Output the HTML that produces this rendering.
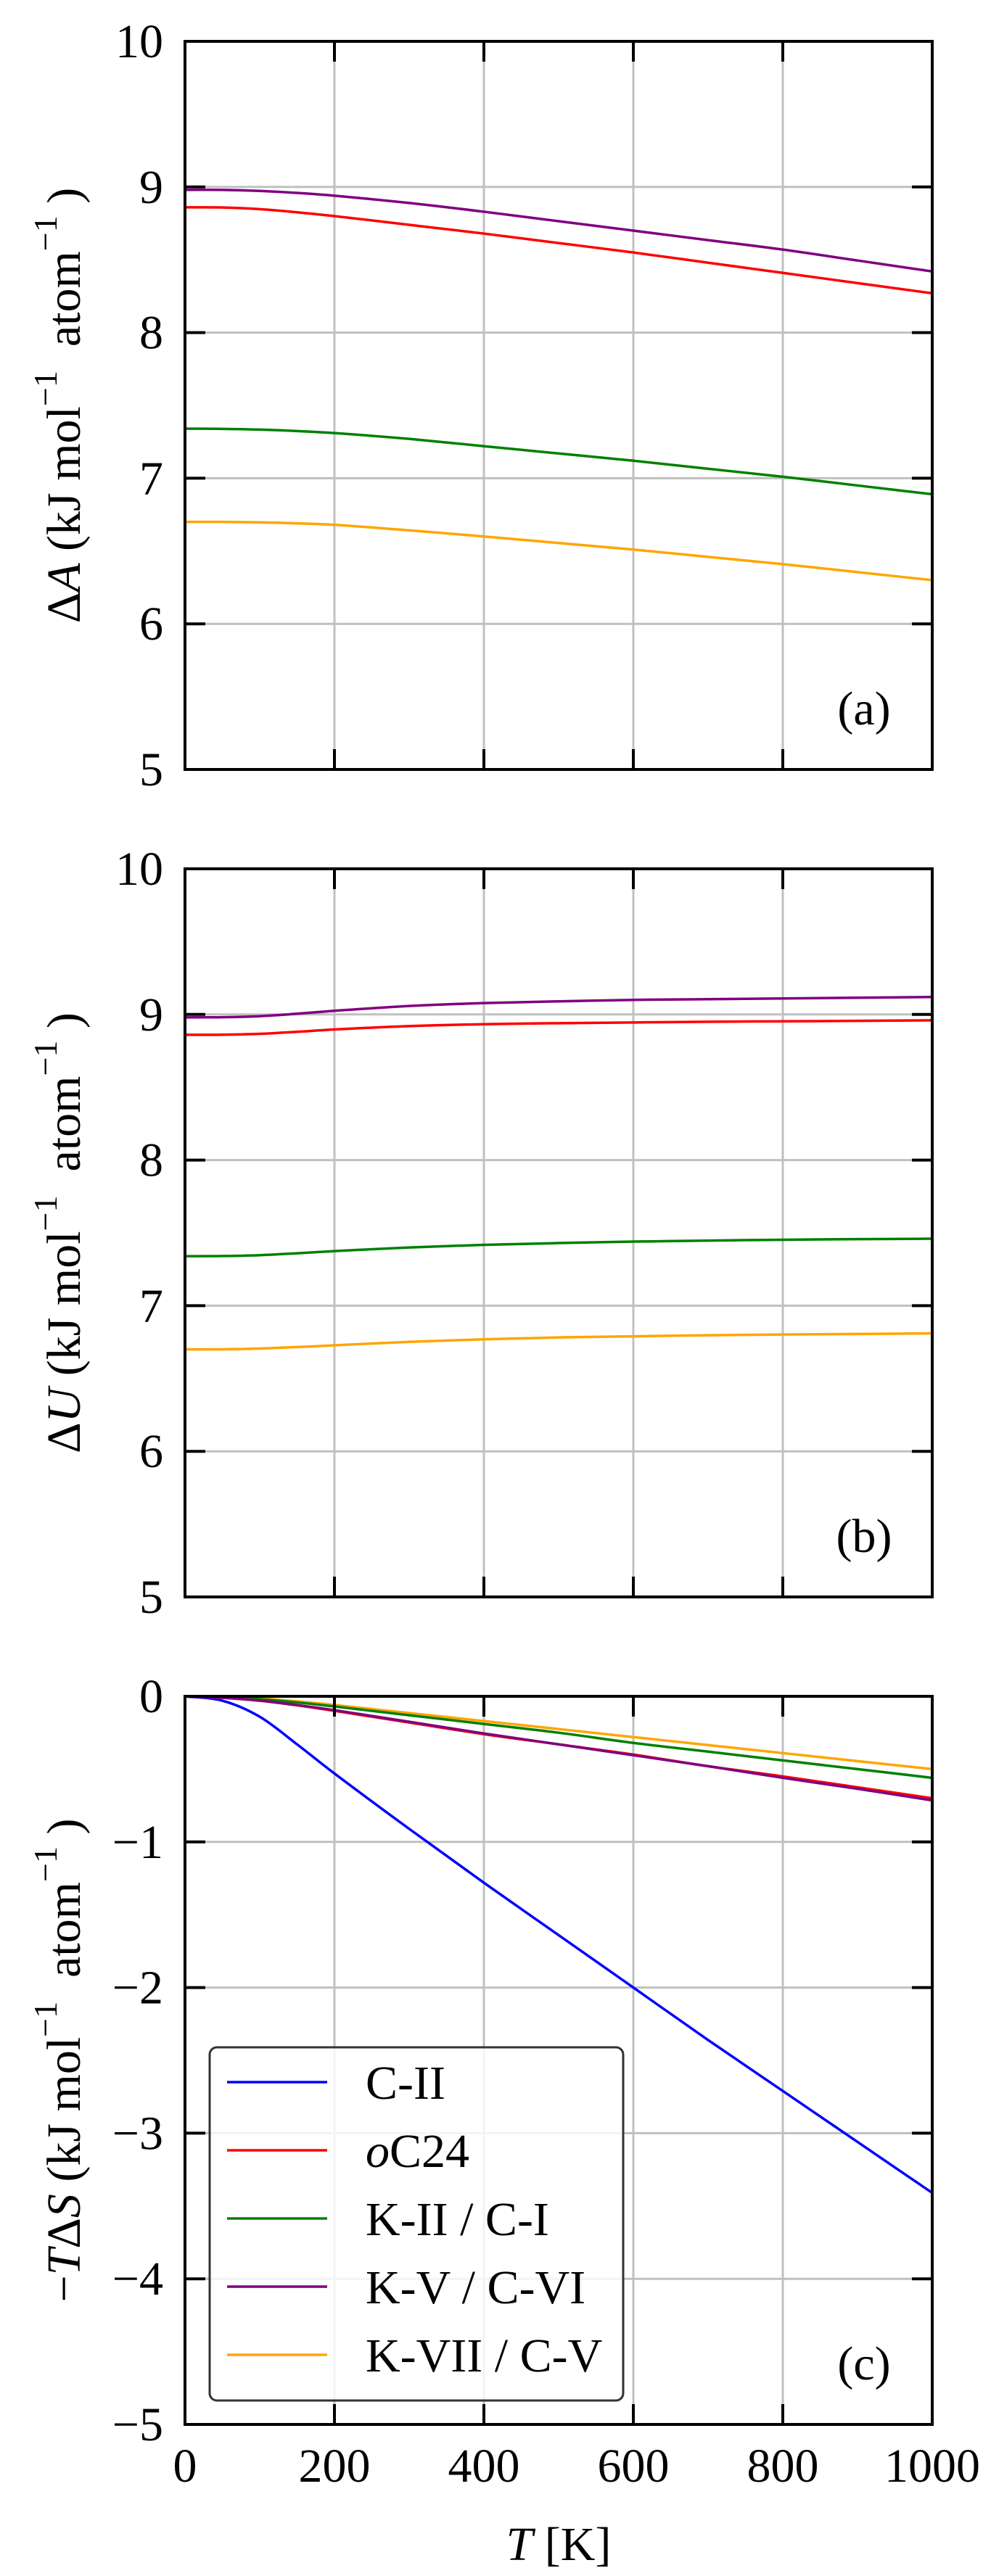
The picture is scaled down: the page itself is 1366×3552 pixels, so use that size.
<!DOCTYPE html>
<html><head><meta charset="utf-8"><style>
html,body{margin:0;padding:0;background:#fff;}
svg{display:block;}
text{font-family:"Liberation Serif","Times New Roman",serif;}
</style></head><body>
<svg id="fig" width="1366" height="3552" viewBox="0 0 1366 3552" xmlns="http://www.w3.org/2000/svg"></svg>
<script>
const temps = [0,50,100,150,200,300,400,500,600,700,800,900,1000];
const xTicks = [0,200,400,600,800,1000];
// Panel (a) ΔA
const aRed    = [8.86,8.859,8.848,8.826,8.80,8.74,8.68,8.615,8.55,8.48,8.41,8.34,8.27];
const aPurple = [8.98,8.98,8.973,8.959,8.94,8.89,8.83,8.765,8.70,8.635,8.57,8.495,8.42];
const aGreen  = [7.34,7.339,7.334,7.324,7.31,7.27,7.22,7.17,7.12,7.065,7.01,6.95,6.89];
const aOrange = [6.70,6.70,6.697,6.69,6.68,6.642,6.60,6.555,6.51,6.46,6.41,6.355,6.30];
// Panel (b) ΔU
const bRed    = [8.86,8.861,8.867,8.881,8.897,8.92,8.933,8.94,8.945,8.95,8.953,8.956,8.96];
const bPurple = [8.98,8.981,8.988,9.005,9.025,9.058,9.078,9.09,9.10,9.105,9.11,9.115,9.12];
const bGreen  = [7.34,7.341,7.347,7.36,7.375,7.40,7.418,7.43,7.44,7.447,7.453,7.457,7.46];
const bOrange = [6.70,6.701,6.706,6.716,6.728,6.752,6.769,6.782,6.79,6.797,6.802,6.806,6.81];
// Panel (c) -TΔS
const cBlue   = [0,-0.03,-0.14,-0.33,-0.53,-0.91,-1.28,-1.64,-2.00,-2.36,-2.71,-3.06,-3.41];
const cRed    = [0,-0.01,-0.03,-0.062,-0.10,-0.18,-0.26,-0.33,-0.40,-0.48,-0.55,-0.625,-0.70];
const cPurple = [0,-0.01,-0.03,-0.06,-0.095,-0.175,-0.255,-0.33,-0.405,-0.48,-0.56,-0.635,-0.715];
const cGreen  = [0,-0.005,-0.02,-0.042,-0.07,-0.13,-0.19,-0.25,-0.32,-0.38,-0.44,-0.50,-0.56];
const cOrange = [0,-0.005,-0.015,-0.035,-0.06,-0.115,-0.17,-0.225,-0.28,-0.335,-0.39,-0.445,-0.50];
const abTicks = [5,6,7,8,9,10];
const cTicks = [-5,-4,-3,-2,-1,0];
const legendLabels = ["C-II","oC24","K-II / C-I","K-V / C-VI","K-VII / C-V"];

const NS="http://www.w3.org/2000/svg";
const svg=document.getElementById('fig');
function mk(tag,attrs,parent){const e=document.createElementNS(NS,tag);for(const k in attrs)e.setAttribute(k,attrs[k]);(parent||svg).appendChild(e);return e;}
const X0=255,X1=1285,PH=1004;
const xs=t=>X0+(t-0)/(1000-0)*(X1-X0);
const COL={blue:"#0000ff",red:"#ff0000",green:"#008000",purple:"#800080",orange:"#ffa500"};

function pathFor(vals,ys){
  const p=temps.map((t,i)=>[xs(t),ys(vals[i])]);
  let d="M"+p[0][0].toFixed(2)+","+p[0][1].toFixed(2);
  for(let i=0;i<p.length-1;i++){
    const p0=p[Math.max(0,i-1)],p1=p[i],p2=p[i+1],p3=p[Math.min(p.length-1,i+2)];
    const h=p2[0]-p1[0];
    const m1=(p2[1]-p0[1])/(p2[0]-p0[0]||1), m2=(p3[1]-p1[1])/(p3[0]-p1[0]||1);
    const c1=[p1[0]+h/3,p1[1]+m1*h/3];
    const c2=[p2[0]-h/3,p2[1]-m2*h/3];
    d+=" C"+c1[0].toFixed(2)+","+c1[1].toFixed(2)+" "+c2[0].toFixed(2)+","+c2[1].toFixed(2)+" "+p2[0].toFixed(2)+","+p2[1].toFixed(2);
  }
  return d;
}

function panel(top,ymin,ymax,yticks,series,letter,labelParts,name,showX){
  const g=mk('g',{});
  
  
  const Y1=top+PH;
  const ys=v=>Y1-(v-ymin)/(ymax-ymin)*PH;
  xTicks.forEach(t=>{if(t>0&&t<1000){const l=mk('line',{x1:xs(t),x2:xs(t),y1:top,y2:Y1,stroke:"#c0c0c0","stroke-width":3},g);
    }});
  yticks.forEach(v=>{if(v>ymin&&v<ymax){const l=mk('line',{x1:X0,x2:X1,y1:ys(v),y2:ys(v),stroke:"#c0c0c0","stroke-width":3},g);
    }});
  series.forEach(s=>{const p=mk('path',{d:pathFor(s.v,ys),fill:"none",stroke:COL[s.c],"stroke-width":3.5},g);
    });
  xTicks.forEach(t=>{if(t>0&&t<1000){
    mk('line',{x1:xs(t),x2:xs(t),y1:top,y2:top+28,stroke:"#000","stroke-width":4},g);
    mk('line',{x1:xs(t),x2:xs(t),y1:Y1,y2:Y1-28,stroke:"#000","stroke-width":4},g);}
    if(showX){const tx=mk('text',{x:xs(t),y:Y1+79,"font-size":66,"text-anchor":"middle",fill:"#000"},g);tx.textContent=t;
      }
  });
  yticks.forEach(v=>{
    if(v>ymin&&v<ymax){
      mk('line',{x1:X0,x2:X0+28,y1:ys(v),y2:ys(v),stroke:"#000","stroke-width":4},g);
      mk('line',{x1:X1,x2:X1-28,y1:ys(v),y2:ys(v),stroke:"#000","stroke-width":4},g);}
    const tx=mk('text',{x:225,y:ys(v)+22,"font-size":66,"text-anchor":"end",fill:"#000"},g);
    tx.textContent=v<0?"\u2212"+Math.abs(v):String(v);
    
  });
  const fr=mk('rect',{x:X0,y:top,width:X1-X0,height:PH,fill:"none",stroke:"#000","stroke-width":4},g);
  
  const lt=mk('text',{x:1191,y:Y1-62,"font-size":66,"text-anchor":"middle",fill:"#000"},g);
  lt.textContent=letter;
  
  const cy=top+PH/2;
  const yt=mk('text',{x:0,y:0,"font-size":66,"text-anchor":"middle",fill:"#000",transform:"translate(110,"+cy+") rotate(-90)"},g);
  
  labelParts.forEach(pp=>{const ts=mk('tspan',pp.a||{},yt);ts.textContent=pp.t;});
  return ys;
}
const sup={"font-size":46,dy:-32};
const unsup={dy:32};
const sp="\u2002";
panel(57,5,10,abTicks,[
  {v:aRed,c:"red",n:"oc24"},{v:aPurple,c:"purple",n:"kv-cvi"},{v:aGreen,c:"green",n:"kii-ci"},{v:aOrange,c:"orange",n:"kvii-cv"}],
  "(a)",[{t:"\u0394"},{t:"A",a:{"font-style":"italic"}},{t:" (kJ mol"},{t:"\u22121",a:sup},{t:sp+"atom",a:unsup},{t:"\u22121",a:sup},{t:" )",a:unsup}],"panel-a-free-energy",false);
panel(1198,5,10,abTicks,[
  {v:bRed,c:"red",n:"oc24"},{v:bPurple,c:"purple",n:"kv-cvi"},{v:bGreen,c:"green",n:"kii-ci"},{v:bOrange,c:"orange",n:"kvii-cv"}],
  "(b)",[{t:"\u0394"},{t:"U",a:{"font-style":"italic"}},{t:" (kJ mol"},{t:"\u22121",a:sup},{t:sp+"atom",a:unsup},{t:"\u22121",a:sup},{t:" )",a:unsup}],"panel-b-internal-energy",false);
panel(2339,-5,0,cTicks,[
  {v:cBlue,c:"blue",n:"cii"},{v:cOrange,c:"orange",n:"kvii-cv"},{v:cGreen,c:"green",n:"kii-ci"},{v:cRed,c:"red",n:"oc24"},{v:cPurple,c:"purple",n:"kv-cvi"}],
  "(c)",[{t:"\u2212"},{t:"T",a:{"font-style":"italic"}},{t:"\u0394"},{t:"S",a:{"font-style":"italic"}},{t:" (kJ mol"},{t:"\u22121",a:sup},{t:sp+"atom",a:unsup},{t:"\u22121",a:sup},{t:" )",a:unsup}],"panel-c-entropy",true);

const xt=mk('text',{x:770,y:3530,"font-size":66,"text-anchor":"middle",fill:"#000"});


const t1=mk('tspan',{"font-style":"italic"},xt);t1.textContent="T";
const t2=mk('tspan',{},xt);t2.textContent=" [K]";

const lg=mk('g',{});


mk('rect',{x:289,y:2823,width:570,height:487,rx:10,fill:"#fff","fill-opacity":0.8,stroke:"#333","stroke-width":3},lg);
const lcols=["blue","red","green","purple","orange"];
legendLabels.forEach((lab,i)=>{
  const y=2871+i*94;
  const e=mk('g',{},lg);
  
  
  mk('line',{x1:313,x2:451,y1:y,y2:y,stroke:COL[lcols[i]],"stroke-width":3.5},e);
  const t=mk('text',{x:504,y:y+23,"font-size":66,fill:"#000"},e);
  if(lab==="oC24"){const a=mk('tspan',{"font-style":"italic"},t);a.textContent="o";const b=mk('tspan',{},t);b.textContent="C24";}
  else t.textContent=lab;
});
</script>
</body></html>
